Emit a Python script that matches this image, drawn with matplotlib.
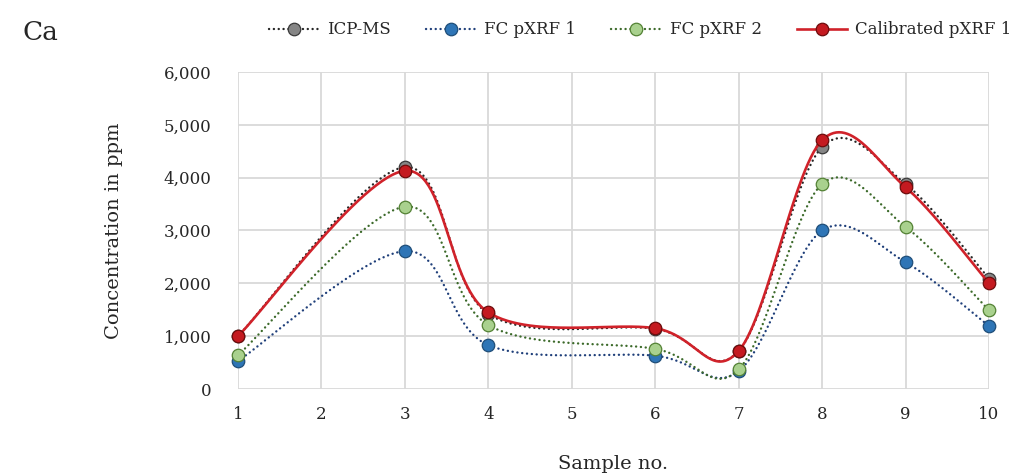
import numpy as np
import matplotlib
matplotlib.use("Agg")
import matplotlib.pyplot as plt
from matplotlib.lines import Line2D

# ---- data ----
samples = [1, 3, 4, 6, 7, 8, 9, 10]
icp_ms = [1000, 4200, 1420, 1140, 720, 4580, 3880, 2090]
fc_pxrf1 = [530, 2610, 830, 630, 340, 3000, 2400, 1190]
fc_pxrf2 = [640, 3450, 1210, 760, 370, 3880, 3070, 1490]
calibrated = [1000, 4130, 1450, 1150, 720, 4710, 3820, 2000]
series_names = ["ICP-MS", "FC pXRF 1", "FC pXRF 2", "Calibrated pXRF 1"]
xticks = list(range(1, 11))
yticks = [0, 1000, 2000, 3000, 4000, 5000, 6000]


def smooth(xs, ys, n=60):
    """Excel-style smoothed line (Catmull-Rom Bezier)."""
    P = np.column_stack([xs, ys]).astype(float)
    out = []
    m = len(P)
    t = np.linspace(0, 1, n)[:, None]
    for i in range(m - 1):
        p0 = P[i - 1] if i > 0 else P[i]
        p1 = P[i]
        p2 = P[i + 1]
        p3 = P[i + 2] if i + 2 < m else P[i + 1]
        c1 = p1 + (p2 - p0) / 6.0
        c2 = p2 - (p3 - p1) / 6.0
        B = ((1 - t) ** 3) * p1 + 3 * ((1 - t) ** 2) * t * c1 + 3 * (1 - t) * t ** 2 * c2 + t ** 3 * p2
        out.append(B if i == 0 else B[1:])
    B = np.vstack(out)
    return B[:, 0], B[:, 1]


fig = plt.figure(figsize=(10.16, 4.74), dpi=100)
ax = fig.add_axes([238 / 1016, 1 - 389 / 474, (989 - 238) / 1016, (389 - 72) / 474])

dot = (0, (0.05, 2.0))
styles = [
    dict(data=icp_ms, lc="#262626", ls=dot, lw=1.7, mfc="#858585", mec="#3a3a3a"),
    dict(data=fc_pxrf1, lc="#1f3f7a", ls=dot, lw=1.7, mfc="#2e75b6", mec="#1f4e79"),
    dict(data=fc_pxrf2, lc="#3c6a2a", ls=dot, lw=1.7, mfc="#a9d18e", mec="#548235"),
    dict(data=calibrated, lc="#d0222a", ls="-", lw=1.9, mfc="#c41a20", mec="#6e0c0c"),
]

handles = []
for k, (st, name) in enumerate(zip(styles, series_names)):
    sx, sy = smooth(samples, st["data"])
    ax.plot(sx, sy, color=st["lc"], linestyle=st["ls"], linewidth=st["lw"],
            dash_capstyle="round", zorder=3 + k, clip_on=False)
    ax.plot(samples, st["data"], linestyle="none", marker="o", markersize=9,
            markerfacecolor=st["mfc"], markeredgecolor=st["mec"], markeredgewidth=0.9,
            zorder=3 + k, clip_on=False)
    handles.append(Line2D([0], [0], color=st["lc"], linestyle=st["ls"], linewidth=st["lw"],
                          marker="o", markersize=9, markerfacecolor=st["mfc"],
                          markeredgecolor=st["mec"], markeredgewidth=0.9,
                          dash_capstyle="round"))

ax.set_xlim(1, 10)
ax.set_ylim(0, 6000)
ax.set_xticks(xticks)
ax.set_yticks(yticks)
ax.set_yticklabels([f"{v:,}" for v in yticks])
ax.grid(True, color="#d9d9d9", linewidth=1.3, zorder=0)
ax.set_axisbelow(True)
for s in ax.spines.values():
    s.set_visible(False)
ax.tick_params(length=0, labelsize=12, colors="#262626")
ax.tick_params(axis="y", pad=19)
ax.tick_params(axis="x", pad=12)
for lab in ax.get_xticklabels() + ax.get_yticklabels():
    lab.set_family("DejaVu Serif")

ax.set_xlabel("Sample no.", fontsize=14, family="DejaVu Serif", color="#262626", labelpad=23)
ax.set_ylabel("Concentration in ppm", fontsize=14, family="DejaVu Serif", color="#262626", labelpad=29)

fig.text(22 / 1016, 1 - 32 / 474, "Ca", fontsize=19, family="DejaVu Serif", color="#262626",
         ha="left", va="center")

leg = fig.legend(handles, series_names, loc="center", bbox_to_anchor=(640 / 1016, 1 - 30 / 474),
                 ncol=4, frameon=False, handlelength=3.0, handletextpad=0.5, columnspacing=2.1,
                 prop=dict(family="DejaVu Serif", size=12))
for t in leg.get_texts():
    t.set_color("#262626")

fig.savefig("out.png", dpi=100)
